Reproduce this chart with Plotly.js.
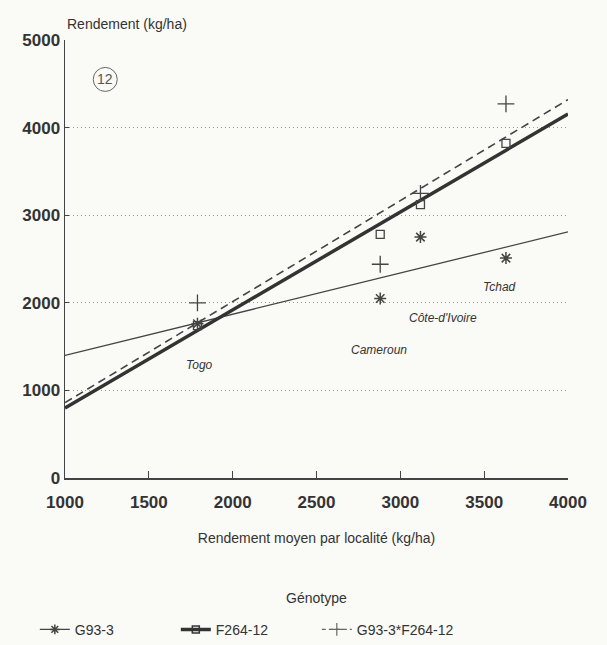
<!DOCTYPE html>
<html>
<head>
<meta charset="utf-8">
<script src="https://cdn.plot.ly/plotly-3.0.1.min.js"></script>
<style>html,body{margin:0;padding:0;background:#fafaf7;}</style>
</head>
<body>
<div id="chart" style="width:607px;height:645px;"></div>
<script>
// Locations (mean yield per location, kg/ha)
var locations = ["Togo", "Cameroun", "Côte-d'Ivoire", "Tchad"];
var locMean = [1790, 2880, 3120, 3630];
// Yields per genotype (kg/ha)
var yG93 = [1760, 2050, 2750, 2510];
var yF264 = [1740, 2780, 3120, 3820];
var yCross = [2000, 2440, 3250, 4270];
// Regression lines (end points)
var regX = [1000, 4000];
var regG93 = [1400, 2810];
var regF264 = [800, 4155];
var regCross = [860, 4320];
// Location label positions
var labelX = [1805, 2870, 3255, 3590];
var labelY = [1290, 1460, 1830, 2180];

var ink = '#444';
var traces = [
  {x: regX, y: regG93, mode: 'lines', line: {color: ink, width: 1.3}, showlegend: false, hoverinfo: 'skip'},
  {x: regX, y: regCross, mode: 'lines', line: {color: ink, width: 1.6, dash: '8px,5px'}, showlegend: false, hoverinfo: 'skip'},
  {x: regX, y: regF264, mode: 'lines', line: {color: '#333', width: 3.5}, showlegend: false, hoverinfo: 'skip'},
  {x: locMean, y: yG93, mode: 'markers', showlegend: false,
   marker: {symbol: 'asterisk-open', size: 10, color: ink, line: {color: ink, width: 1.5}}},
  {x: locMean, y: yF264, mode: 'markers', showlegend: false,
   marker: {symbol: 'square-open', size: 8, color: ink, line: {color: ink, width: 1.3}}},
  {x: locMean, y: yCross, mode: 'markers', showlegend: false,
   marker: {symbol: 'cross-thin-open', size: 12, color: ink, line: {color: ink, width: 1.3}}},
  // legend entries
  {x: [null], y: [null], name: 'G93-3', mode: 'lines+markers',
   line: {color: ink, width: 1.3}, marker: {symbol: 'asterisk-open', size: 8, color: ink, line: {color: ink, width: 1.5}}},
  {x: [null], y: [null], name: 'F264-12', mode: 'lines+markers',
   line: {color: '#333', width: 3.5}, marker: {symbol: 'square-open', size: 7, color: '#333', line: {color: '#333', width: 1.5}}},
  {x: [null], y: [null], name: 'G93-3*F264-12', mode: 'lines+markers',
   line: {color: '#666', width: 1.3, dash: '4px,3px'}, marker: {symbol: 'cross-thin-open', size: 9, color: '#666', line: {color: '#666', width: 1.2}}}
];

var annotations = [];
for (var i = 0; i < locations.length; i++) {
  annotations.push({x: labelX[i], y: labelY[i], xref: 'x', yref: 'y', text: '<i>' + locations[i] + '</i>',
    showarrow: false, font: {size: 12, color: '#333'}});
}
annotations.push({x: 0, y: 1, xref: 'paper', yref: 'paper', xanchor: 'left', yanchor: 'bottom', yshift: 6,
  text: 'Rendement (kg/ha)', showarrow: false, font: {size: 14, color: '#333'}});
annotations.push({x: 1240, y: 4550, xref: 'x', yref: 'y', text: '12', showarrow: false,
  font: {size: 14, color: '#555'}});
annotations.push({x: 0.5, y: 0, xref: 'paper', yref: 'paper', xanchor: 'center', yanchor: 'middle', yshift: -120,
  text: 'Génotype', showarrow: false, font: {size: 14, color: '#333'}});

var layout = {
  width: 607, height: 645,
  margin: {l: 65, r: 39, t: 40, b: 167, autoexpand: false},
  paper_bgcolor: '#fafaf7', plot_bgcolor: '#fafaf7',
  font: {family: '"Liberation Sans", Arial, sans-serif', color: '#333', size: 14},
  xaxis: {range: [1000, 4000], tickvals: [1000, 1500, 2000, 2500, 3000, 3500, 4000], automargin: false,
    ticks: 'inside', ticklen: 7, tickcolor: ink, showline: true, linecolor: ink, linewidth: 1.5,
    ticklabelstandoff: 8,
    showgrid: false, zeroline: false, tickfont: {size: 17, color: '#333', weight: 'bold'},
    title: {text: 'Rendement moyen par localité (kg/ha)', font: {size: 14, color: '#333'}, standoff: 22}},
  yaxis: {range: [0, 5000], tickvals: [0, 1000, 2000, 3000, 4000, 5000], automargin: false,
    ticks: 'inside', ticklen: 4, tickcolor: ink, showline: true, linecolor: ink, linewidth: 1.5,
    showgrid: true, gridcolor: '#999', griddash: '1px,3px', gridwidth: 1, zeroline: false,
    tickfont: {size: 17, color: '#333', weight: 'bold'}},
  shapes: [{type: 'circle', xref: 'x', yref: 'y', xsizemode: 'pixel', ysizemode: 'pixel',
    xanchor: 1240, yanchor: 4550, x0: -12, x1: 12, y0: -12, y1: 12, line: {color: '#666', width: 1}}],
  annotations: annotations,
  legend: {orientation: 'h', x: -0.06, xanchor: 'left', y: -0.31, yanchor: 'top',
    font: {size: 14, color: '#333'}, entrywidth: 96, bgcolor: 'rgba(0,0,0,0)'},
  showlegend: true
};

Plotly.newPlot('chart', traces, layout, {displayModeBar: false, staticPlot: true});
</script>
</body>
</html>
